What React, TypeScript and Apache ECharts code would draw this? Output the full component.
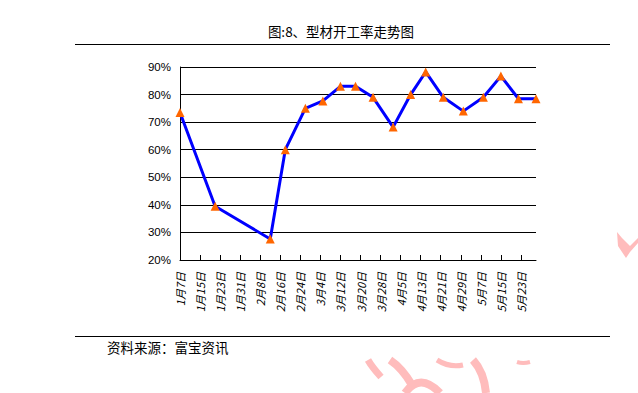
import React, { useEffect, useRef } from "react";
import * as echarts from "echarts";

const dates = ["1/7", "1/21", "2/12", "2/18", "2/26", "3/5", "3/12", "3/18", "3/25", "4/2", "4/9", "4/15", "4/22", "4/30", "5/8", "5/15", "5/22", "5/29"];
const rates = [73.5, 39.5, 27.6, 60, 75, 77.7, 83, 83, 79, 68.2, 80, 88.2, 79, 74, 79, 86.7, 78.5, 78.5];

// X tick labels (every 8 days, starting 1/7)
const tickLabels = ["1月7日", "1月15日", "1月23日", "1月31日", "2月8日", "2月16日", "2月24日", "3月4日", "3月12日", "3月20日", "3月28日", "4月5日", "4月13日", "4月21日", "4月29日", "5月7日", "5月15日", "5月23日"];
const yTicks = [20, 30, 40, 50, 60, 70, 80, 90];

const TITLE = "图:8、型材开工率走势图";
const SOURCE = "资料来源：富宝资讯";

const YEAR = 2010;
const BASE = Date.UTC(YEAR, 0, 7);
const DAY = 86400000;
function dayOffset(md: string): number {
  const [m, d] = md.split("/").map(Number);
  return Math.round((Date.UTC(YEAR, m - 1, d) - BASE) / DAY);
}

export default function App() {
  const ref = useRef<HTMLDivElement>(null);
  useEffect(() => {
    if (!ref.current) return;
    const chart = echarts.init(ref.current, null, { renderer: "svg" });
    const tickDays = tickLabels.map((_, i) => i * 8);
    const lastDay = dayOffset(dates[dates.length - 1]);
    const pink = "#ffbcbc";
    const cjk = "'Noto Sans CJK SC', sans-serif";
    chart.setOption({
      animation: false,
      backgroundColor: "#ffffff",
      grid: { left: 180, right: 102, top: 67, bottom: 133, containLabel: false },
      xAxis: {
        type: "value",
        min: 0,
        max: lastDay,
        axisLine: { show: true, lineStyle: { color: "#000", width: 1 } },
        axisTick: { show: true, inside: true, length: 5, lineStyle: { color: "#000" }, customValues: tickDays },
        splitLine: { show: false },
        axisLabel: {
          customValues: tickDays,
          rotate: 90,
          margin: 12,
          fontSize: 11,
          fontStyle: "italic",
          color: "#000",
          fontFamily: cjk,
          formatter: (v: number) => {
            const i = Math.round(v / 8);
            return v % 8 === 0 && tickLabels[i] ? tickLabels[i] : "";
          },
        },
      },
      yAxis: {
        type: "value",
        min: yTicks[0],
        max: yTicks[yTicks.length - 1],
        interval: 10,
        axisLine: { show: true, lineStyle: { color: "#000", width: 1 } },
        axisTick: { show: false },
        splitLine: { show: true, lineStyle: { color: "#000", width: 1 } },
        axisLabel: {
          margin: 9,
          fontSize: 11.5,
          color: "#000",
          fontFamily: "'Liberation Sans', Arial, sans-serif",
          formatter: "{value}%",
        },
      },
      series: [
        {
          type: "line",
          data: dates.map((d, i) => [dayOffset(d), rates[i]]),
          lineStyle: { color: "#0000ff", width: 3 },
          symbol: "triangle",
          symbolSize: 9,
          itemStyle: { color: "#ff6600" },
          z: 3,
        },
      ],
      graphic: [
        // watermark-like pink strokes
        { type: "bezierCurve", silent: true, z: -10, shape: { x1: 368, y1: 360, x2: 381, y2: 377, cpx1: 372, cpy1: 367 }, style: { stroke: pink, lineWidth: 7, fill: null } },
        { type: "bezierCurve", silent: true, z: -10, shape: { x1: 390, y1: 360, x2: 412, y2: 385, cpx1: 402, cpy1: 368 }, style: { stroke: pink, lineWidth: 8, fill: null } },
        { type: "bezierCurve", silent: true, z: -10, shape: { x1: 405, y1: 393, x2: 440, y2: 393, cpx1: 420, cpy1: 372 }, style: { stroke: pink, lineWidth: 8, fill: null } },
        { type: "bezierCurve", silent: true, z: -10, shape: { x1: 437, y1: 360, x2: 463, y2: 365, cpx1: 450, cpy1: 368 }, style: { stroke: pink, lineWidth: 5, fill: null } },
        { type: "bezierCurve", silent: true, z: -10, shape: { x1: 473, y1: 360, x2: 486, y2: 393, cpx1: 484, cpy1: 372 }, style: { stroke: pink, lineWidth: 8, fill: null } },
        { type: "bezierCurve", silent: true, z: -10, shape: { x1: 517, y1: 362, x2: 530, y2: 362, cpx1: 523, cpy1: 364 }, style: { stroke: pink, lineWidth: 4, fill: null } },
        { type: "polygon", silent: true, z: -10, shape: { points: [[617, 232], [622, 238], [630, 246], [638, 238], [638, 243], [630, 252], [626, 258], [618, 246]] }, style: { fill: pink } },
        // rules and texts
        { type: "line", shape: { x1: 75, y1: 44.5, x2: 610, y2: 44.5 }, style: { stroke: "#000", lineWidth: 1 } },
        { type: "line", shape: { x1: 75, y1: 336.5, x2: 610, y2: 336.5 }, style: { stroke: "#000", lineWidth: 1 } },
        {
          type: "text",
          x: 341,
          y: 31,
          style: { text: TITLE, fill: "#000", fontSize: 13.5, fontFamily: cjk, align: "center", verticalAlign: "middle" },
        },
        {
          type: "text",
          x: 107,
          y: 347,
          style: { text: SOURCE, fill: "#000", fontSize: 13.5, fontFamily: cjk, align: "left", verticalAlign: "middle" },
        },
      ],
    });
    return () => chart.dispose();
  }, []);
  return <div ref={ref} style={{ width: 638, height: 393, position: "absolute", left: 0, top: 0 }} />;
}
